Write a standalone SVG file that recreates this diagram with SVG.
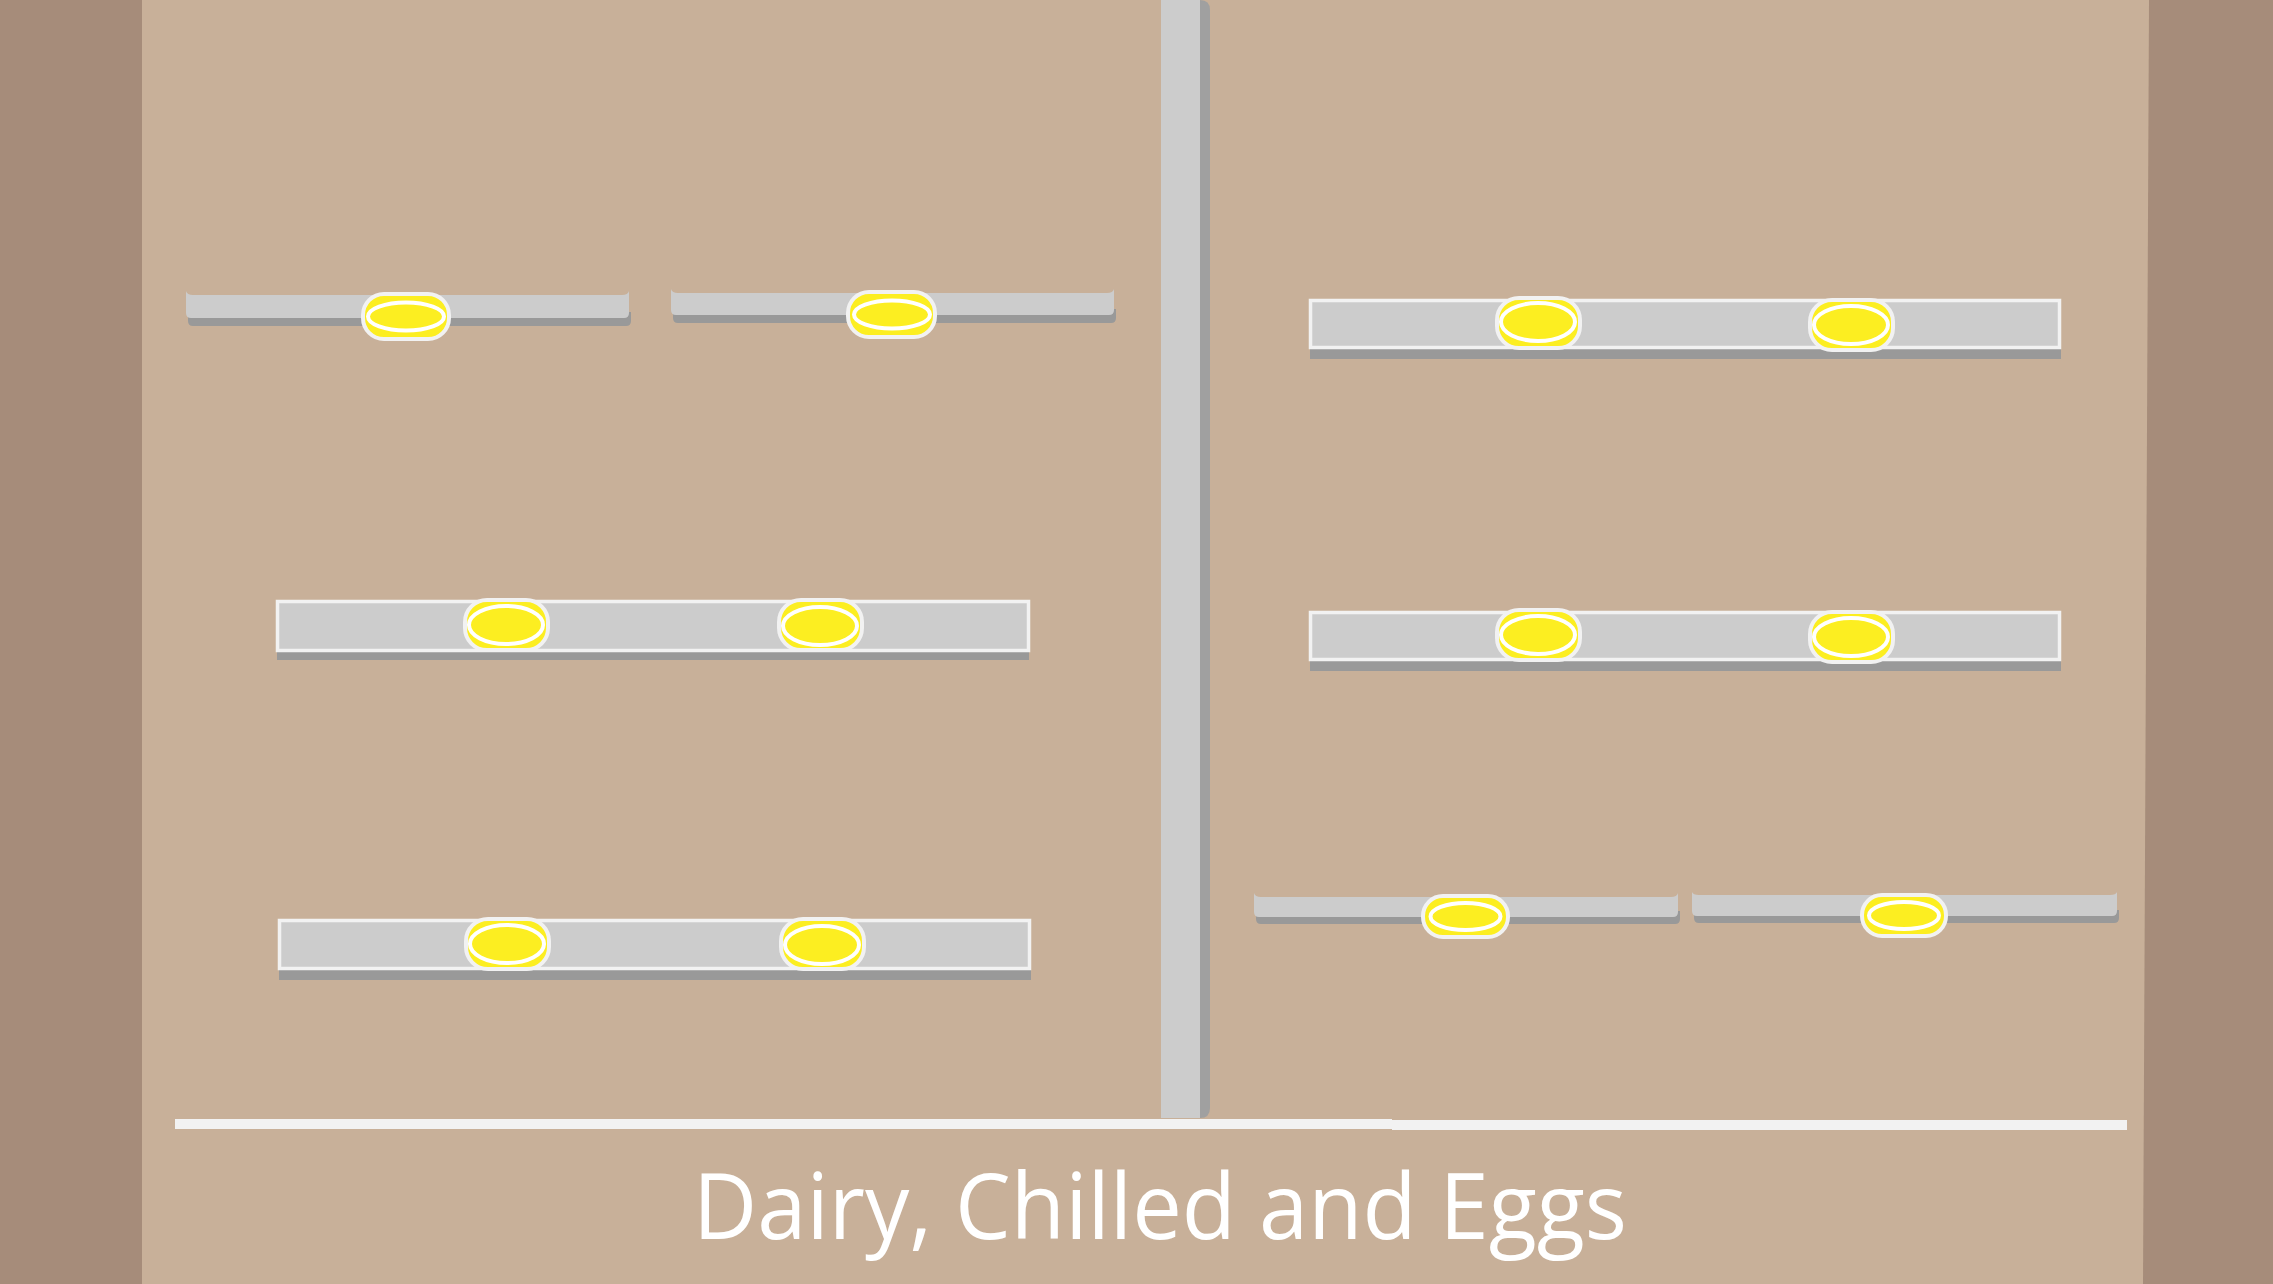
<svg xmlns="http://www.w3.org/2000/svg" width="2273" height="1284" viewBox="0 0 2273 1284">
<defs>
<style>
.bg{fill:#c8b099}
.wall{fill:#a68c7a}
.shelf{fill:#cccccc}
.shadow{fill:#999999}
.bigshelf{fill:#cccccc;stroke:#f2f2f2;stroke-width:3.5}
.lampbox{fill:#fcee21;stroke:#f2f2f2;stroke-width:4}
.lamp{fill:#fcee21;stroke:#ffffff;stroke-width:4}
.floor{fill:#f2f2f2}
.label{font-family:"Open Sans","Noto Sans",sans-serif;fill:#ffffff;font-size:92px}
</style>
</defs>
<rect class="bg" x="0" y="0" width="2273" height="1284"/>
<rect class="wall" x="0" y="0" width="142" height="1284"/>
<polygon class="wall" points="2149,0 2273,0 2273,1284 2143,1284"/>

<g id="pillar">
<path fill="#a0a0a0" d="M1195,0 H1200 Q1210,0 1210,10 V1108 Q1210,1118 1200,1118 H1195 Z"/>
<rect fill="#cccccc" x="1161" y="0" width="39" height="1118"/>
</g>

<g id="floor">
<rect class="floor" x="175" y="1119" width="1217" height="10"/>
<rect class="floor" x="1392" y="1120" width="735" height="10"/>
</g>

<g id="shelf-a">
<path class="shadow" d="M188,312 H631 V321 Q631,326 626,326 H193 Q188,326 188,321 Z"/>
<path class="shelf" d="M186,291 V313 Q186,318 191,318 H624 Q629,318 629,313 V291 Q628,295 622,295 H193 Q187,295 186,291 Z"/>
<rect class="lampbox" x="363" y="294" width="86" height="45" rx="21"/>
<ellipse class="lamp" cx="406" cy="316.5" rx="38" ry="14"/>
</g>

<g id="shelf-b">
<path class="shadow" d="M673,309 H1116 V318 Q1116,323 1111,323 H678 Q673,323 673,318 Z"/>
<path class="shelf" d="M671,289 V310 Q671,315 676,315 H1109 Q1114,315 1114,310 V289 Q1113,293 1107,293 H678 Q672,293 671,289 Z"/>
<rect class="lampbox" x="848" y="292" width="87" height="45" rx="21"/>
<ellipse class="lamp" cx="892" cy="314.5" rx="38" ry="14"/>
</g>

<g id="shelf-c">
<path class="shadow" d="M1256,911 H1680 V919 Q1680,924 1675,924 H1261 Q1256,924 1256,919 Z"/>
<path class="shelf" d="M1254,893 V912 Q1254,917 1259,917 H1673 Q1678,917 1678,912 V893 Q1677,897 1671,897 H1261 Q1255,897 1254,893 Z"/>
<rect class="lampbox" x="1423" y="896" width="85" height="41" rx="20"/>
<ellipse class="lamp" cx="1465.5" cy="916.5" rx="35" ry="13.5"/>
</g>

<g id="shelf-d">
<path class="shadow" d="M1694,910 H2119 V918 Q2119,923 2114,923 H1699 Q1694,923 1694,918 Z"/>
<path class="shelf" d="M1692,892 V911 Q1692,916 1697,916 H2112 Q2117,916 2117,911 V892 Q2116,895 2110,895 H1699 Q1693,895 1692,892 Z"/>
<rect class="lampbox" x="1862" y="895" width="84" height="41" rx="20"/>
<ellipse class="lamp" cx="1904" cy="915.5" rx="35" ry="13.5"/>
</g>

<g id="shelf-l1">
<rect class="shadow" x="277" y="651" width="752" height="9"/>
<rect class="bigshelf" x="277.5" y="601.5" width="751" height="49"/>
<rect class="lampbox" x="465" y="600" width="83" height="50" rx="22"/>
<ellipse class="lamp" cx="506" cy="625" rx="37" ry="19"/>
<rect class="lampbox" x="779" y="600" width="83" height="50" rx="22"/>
<ellipse class="lamp" cx="820" cy="626" rx="37" ry="19"/>
</g>

<g id="shelf-l2">
<rect class="shadow" x="279" y="970" width="752" height="10"/>
<rect class="bigshelf" x="279.5" y="920.5" width="750" height="48"/>
<rect class="lampbox" x="466" y="919" width="83" height="50" rx="22"/>
<ellipse class="lamp" cx="507" cy="944" rx="37" ry="19"/>
<rect class="lampbox" x="781" y="919" width="83" height="50" rx="22"/>
<ellipse class="lamp" cx="822" cy="945" rx="37" ry="19"/>
</g>

<g id="shelf-r1">
<rect class="shadow" x="1310" y="349" width="751" height="10"/>
<rect class="bigshelf" x="1310.5" y="300.5" width="749" height="47"/>
<rect class="lampbox" x="1497" y="298" width="83" height="50" rx="22"/>
<ellipse class="lamp" cx="1538" cy="322" rx="37" ry="19"/>
<rect class="lampbox" x="1810" y="300" width="83" height="50" rx="22"/>
<ellipse class="lamp" cx="1851" cy="325" rx="37" ry="19"/>
</g>

<g id="shelf-r2">
<rect class="shadow" x="1310" y="661" width="751" height="10"/>
<rect class="bigshelf" x="1310.5" y="612.5" width="749" height="47"/>
<rect class="lampbox" x="1497" y="610" width="83" height="50" rx="22"/>
<ellipse class="lamp" cx="1538" cy="635" rx="37" ry="19"/>
<rect class="lampbox" x="1810" y="612" width="83" height="50" rx="22"/>
<ellipse class="lamp" cx="1851" cy="637" rx="37" ry="19"/>
</g>

<g id="title">
<text class="label" x="693" y="1239" textLength="934" lengthAdjust="spacingAndGlyphs">Dairy, Chilled and Eggs</text>
</g>
</svg>
